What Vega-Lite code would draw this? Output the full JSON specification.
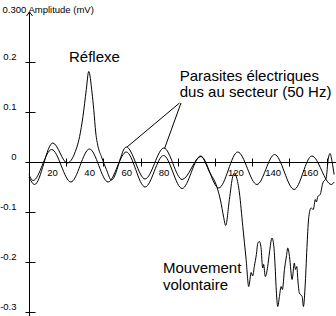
{
  "$schema": "https://vega.github.io/schema/vega-lite/v6.json",
  "width": 307,
  "height": 304,
  "autosize": {"type": "none"},
  "padding": {"left": 29, "top": 12, "right": 0, "bottom": 0},
  "background": "white",
  "config": {"view": {"stroke": null}, "font": "Liberation Sans"},
  "datasets": {
    "traces": [
      {"trace": "S", "t": 0, "v": -0.025},
      {"trace": "S", "t": 2.2, "v": -0.037},
      {"trace": "S", "t": 12.2, "v": 0.025},
      {"trace": "S", "t": 22.5, "v": -0.040},
      {"trace": "S", "t": 32.5, "v": 0.026},
      {"trace": "S", "t": 42.5, "v": -0.040},
      {"trace": "S", "t": 52.3, "v": 0.020},
      {"trace": "S", "t": 62.4, "v": -0.050},
      {"trace": "S", "t": 72.3, "v": 0.013},
      {"trace": "S", "t": 82.3, "v": -0.053},
      {"trace": "S", "t": 92.2, "v": 0.012},
      {"trace": "S", "t": 102, "v": -0.052},
      {"trace": "S", "t": 112.2, "v": 0.020},
      {"trace": "S", "t": 122.5, "v": -0.045},
      {"trace": "S", "t": 132, "v": 0.015},
      {"trace": "S", "t": 142.5, "v": -0.055},
      {"trace": "S", "t": 152, "v": 0.012},
      {"trace": "S", "t": 162.5, "v": -0.045},
      {"trace": "S", "t": 164, "v": -0.040},
      {"trace": "E", "t": 0, "v": -0.030},
      {"trace": "E", "t": 3, "v": -0.045},
      {"trace": "E", "t": 12.8, "v": 0.038},
      {"trace": "E", "t": 20.6, "v": -0.002},
      {"trace": "E", "t": 24.6, "v": 0.018},
      {"trace": "E", "t": 27.2, "v": 0.051},
      {"trace": "E", "t": 29, "v": 0.091},
      {"trace": "E", "t": 30.8, "v": 0.145},
      {"trace": "E", "t": 32.1, "v": 0.181},
      {"trace": "E", "t": 33.9, "v": 0.138},
      {"trace": "E", "t": 34.8, "v": 0.105},
      {"trace": "E", "t": 35.9, "v": 0.058},
      {"trace": "E", "t": 37.1, "v": 0.031},
      {"trace": "E", "t": 38.9, "v": 0.011},
      {"trace": "E", "t": 41.6, "v": -0.015},
      {"trace": "E", "t": 44.3, "v": -0.036},
      {"trace": "E", "t": 52.3, "v": 0.030},
      {"trace": "E", "t": 62.4, "v": -0.034},
      {"trace": "E", "t": 72.5, "v": 0.028},
      {"trace": "E", "t": 82.3, "v": -0.035},
      {"trace": "E", "t": 92.4, "v": 0.011},
      {"trace": "E", "t": 97, "v": -0.020},
      {"trace": "E", "t": 101, "v": -0.050},
      {"trace": "E", "t": 103, "v": -0.078},
      {"trace": "E", "t": 104.5, "v": -0.108},
      {"trace": "E", "t": 105.7, "v": -0.127},
      {"trace": "E", "t": 107.7, "v": -0.075},
      {"trace": "E", "t": 109.5, "v": -0.029},
      {"trace": "E", "t": 110.4, "v": -0.022},
      {"trace": "E", "t": 111.5, "v": -0.030},
      {"trace": "E", "t": 113.1, "v": -0.062},
      {"trace": "E", "t": 114.9, "v": -0.129},
      {"trace": "E", "t": 116.7, "v": -0.195},
      {"trace": "E", "t": 118.1, "v": -0.249},
      {"trace": "E", "t": 119.4, "v": -0.221},
      {"trace": "E", "t": 120.2, "v": -0.228},
      {"trace": "E", "t": 121.1, "v": -0.209},
      {"trace": "E", "t": 122.2, "v": -0.185},
      {"trace": "E", "t": 123, "v": -0.162},
      {"trace": "E", "t": 123.8, "v": -0.159},
      {"trace": "E", "t": 124.7, "v": -0.171},
      {"trace": "E", "t": 125.6, "v": -0.212},
      {"trace": "E", "t": 126.1, "v": -0.205},
      {"trace": "E", "t": 127, "v": -0.229},
      {"trace": "E", "t": 128.3, "v": -0.209},
      {"trace": "E", "t": 129.2, "v": -0.182},
      {"trace": "E", "t": 130.6, "v": -0.152},
      {"trace": "E", "t": 131.6, "v": -0.169},
      {"trace": "E", "t": 132.3, "v": -0.210},
      {"trace": "E", "t": 132.8, "v": -0.249},
      {"trace": "E", "t": 133.7, "v": -0.289},
      {"trace": "E", "t": 134.6, "v": -0.269},
      {"trace": "E", "t": 135.5, "v": -0.249},
      {"trace": "E", "t": 136.2, "v": -0.255},
      {"trace": "E", "t": 137.3, "v": -0.215},
      {"trace": "E", "t": 138.3, "v": -0.190},
      {"trace": "E", "t": 139.1, "v": -0.172},
      {"trace": "E", "t": 140, "v": -0.189},
      {"trace": "E", "t": 141.4, "v": -0.235},
      {"trace": "E", "t": 142.6, "v": -0.202},
      {"trace": "E", "t": 143.2, "v": -0.215},
      {"trace": "E", "t": 143.9, "v": -0.209},
      {"trace": "E", "t": 144.6, "v": -0.240},
      {"trace": "E", "t": 145.3, "v": -0.262},
      {"trace": "E", "t": 146.8, "v": -0.269},
      {"trace": "E", "t": 147.5, "v": -0.289},
      {"trace": "E", "t": 148.5, "v": -0.242},
      {"trace": "E", "t": 149.5, "v": -0.162},
      {"trace": "E", "t": 150.4, "v": -0.109},
      {"trace": "E", "t": 151.6, "v": -0.092},
      {"trace": "E", "t": 152.8, "v": -0.095},
      {"trace": "E", "t": 153.9, "v": -0.075},
      {"trace": "E", "t": 154.5, "v": -0.080},
      {"trace": "E", "t": 155.2, "v": -0.069},
      {"trace": "E", "t": 156.5, "v": -0.065},
      {"trace": "E", "t": 157.9, "v": -0.042},
      {"trace": "E", "t": 159.7, "v": -0.032},
      {"trace": "E", "t": 160.8, "v": 0.005},
      {"trace": "E", "t": 161.8, "v": 0.017},
      {"trace": "E", "t": 162.9, "v": 0.0},
      {"trace": "E", "t": 164, "v": -0.025}
    ],
    "notes": [
      {"t": 21.5, "v": 0.2006, "label": "Réflexe"},
      {"t": 81.0, "v": 0.1626, "label": "Parasites électriques"},
      {"t": 81.0, "v": 0.130, "label": "dus au secteur (50 Hz)"},
      {"t": 72.0, "v": -0.221, "label": "Mouvement"},
      {"t": 72.0, "v": -0.256, "label": "volontaire"}
    ],
    "pointers": [
      {"t": 80.9, "v": 0.118, "t2": 52.7, "v2": 0.030},
      {"t": 81.7, "v": 0.118, "t2": 72.9, "v2": 0.0274}
    ],
    "origin": [
      {"t": 0, "v": 0}
    ],
    "arrow": [
      {"t": 0, "v": 0.3}
    ]
  },
  "layer": [
    {
      "data": {"name": "traces"},
      "mark": {"type": "line", "color": "black", "strokeWidth": 1, "interpolate": "monotone"},
      "encoding": {
        "x": {
          "field": "t", "type": "quantitative",
          "scale": {"domain": [0, 165], "nice": false, "zero": false},
          "axis": {
            "orient": "bottom", "offset": -158, "domain": false, "grid": false,
            "values": [20, 40, 60, 80, 100, 120, 140, 160],
            "labelExpr": "datum.value == 100 ? '' : datum.label",
            "ticks": true, "tickSize": 8, "tickColor": "black", "tickWidth": 1,
            "labelAlign": "right", "labelBaseline": "top", "labelOffset": -9, "labelPadding": 1,
            "labelFont": "Liberation Sans", "labelFontSize": 9.5, "labelColor": "black",
            "labelFlush": false, "labelOverlap": false, "title": null
          }
        },
        "y": {
          "field": "v", "type": "quantitative",
          "scale": {"domain": [-0.308, 0.3], "nice": false, "zero": false},
          "axis": {
            "orient": "left", "offset": -6, "domain": false, "grid": false,
            "values": [-0.3, -0.2, -0.1, 0, 0.1, 0.2],
            "labelExpr": "datum.value == 0 ? '0' : (datum.value < 0 ? '-' + format(-datum.value, '.1f') : format(datum.value, '.1f'))",
            "ticks": true, "tickSize": 10, "tickColor": "black", "tickWidth": 1,
            "labelAlign": "right", "labelBaseline": "alphabetic", "labelOffset": -2.5, "labelPadding": 9,
            "labelFont": "Liberation Sans", "labelFontSize": 9.5, "labelColor": "black",
            "labelFlush": false, "labelOverlap": false,
            "title": "0.300 Amplitude (mV)", "titleAngle": 0, "titleAlign": "left", "titleBaseline": "alphabetic",
            "titleX": -33, "titleY": 0, "titleFont": "Liberation Sans", "titleFontSize": 9.5,
            "titleFontWeight": "normal", "titleColor": "black"
          }
        },
        "detail": {"field": "trace"}
      }
    },
    {
      "data": {"name": "origin"},
      "mark": {"type": "rule", "color": "black", "strokeWidth": 1, "yOffset": 0.5},
      "encoding": {"y": {"field": "v", "type": "quantitative"}}
    },
    {
      "data": {"name": "origin"},
      "mark": {"type": "rule", "color": "black", "strokeWidth": 1, "xOffset": 0.5},
      "encoding": {"x": {"field": "t", "type": "quantitative"}}
    },
    {
      "data": {"name": "pointers"},
      "mark": {"type": "rule", "color": "black", "strokeWidth": 1},
      "encoding": {
        "x": {"field": "t", "type": "quantitative"},
        "y": {"field": "v", "type": "quantitative"},
        "x2": {"field": "t2"},
        "y2": {"field": "v2"}
      }
    },
    {
      "data": {"name": "arrow"},
      "mark": {"type": "point", "shape": "M -0.75 1 L 0 0 L 0.75 1", "filled": false, "size": 64, "stroke": "black", "strokeWidth": 1, "opacity": 1, "xOffset": 0.5},
      "encoding": {
        "x": {"field": "t", "type": "quantitative"},
        "y": {"field": "v", "type": "quantitative"}
      }
    },
    {
      "data": {"name": "notes"},
      "mark": {"type": "text", "align": "left", "baseline": "alphabetic", "font": "Liberation Sans", "fontSize": 15, "color": "black"},
      "encoding": {
        "x": {"field": "t", "type": "quantitative"},
        "y": {"field": "v", "type": "quantitative"},
        "text": {"field": "label"}
      }
    }
  ]
}
